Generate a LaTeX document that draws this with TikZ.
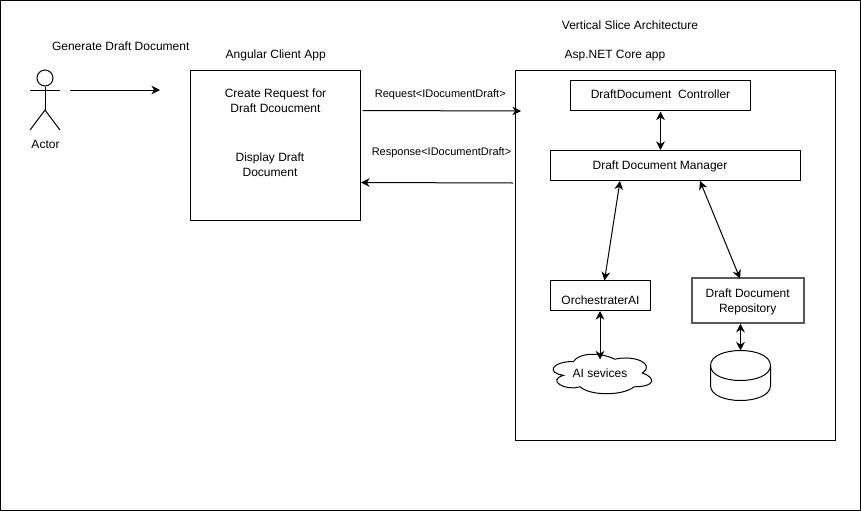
\documentclass[tikz,border=0pt]{standalone}
\usepackage{fontspec}
\setmainfont{Liberation Sans}
\usetikzlibrary{arrows.meta}
\tikzset{
  box/.style={draw,line width=0.75pt,inner sep=0pt},
  txt/.style={inner sep=0pt,align=center,yshift=-1pt,font=\fontsize{9}{11.25}\selectfont},
  smalltxt/.style={inner sep=0pt,yshift=-1pt,font=\fontsize{8.25}{10}\selectfont},
  conn/.style={line width=0.75pt},
}
\begin{document}
\begin{tikzpicture}[x=0.75pt,y=-0.75pt,>={Stealth[length=6.5pt,width=6.5pt]}]
\useasboundingbox (0,0) rectangle (861,511);
% outer frame
\node[box,minimum width=645pt,minimum height=382.5pt] (frame) at (430.5,255.5) {};
% actor
\node[draw,circle,line width=0.75pt,minimum size=12pt,inner sep=0pt] (head) at (45,78) {};
\coordinate (hip) at (45,110);
\coordinate (armleft) at (30,90);
\coordinate (armright) at (60,90);
\coordinate (footleft) at (30,130);
\coordinate (footright) at (60,130);
\draw[conn] (head) -- (hip);
\draw[conn] (armleft) -- (armright);
\draw[conn] (footleft) -- (hip) -- (footright);
\node[txt] (actor) at (45.5,143.2) {Actor};
\node[txt] (generate) at (120.7,44.5) {Generate Draft Document};
\coordinate (flowstart) at (70,90);
\coordinate (flowend) at (160,90);
\draw[conn,->] (flowstart) -- (flowend);
% client app
\node[box,minimum width=127.5pt,minimum height=112.5pt] (client) at (275.5,145.5) {};
\node[txt] (clienttitle) at (275.7,54.5) {Angular Client App};
\node[txt] (create) at (275.5,99) {Create Request for\\Draft Dcoucment};
\node[txt] (display) at (270,163.5) {Display Draft\\Document};
% core app
\node[box,minimum width=240pt,minimum height=277.5pt] (core) at (675.5,255.5) {};
\node[txt] (slice) at (630,24) {Vertical Slice Architecture};
\node[txt] (coretitle) at (615,54.5) {Asp.NET Core app};
\node[box,minimum width=135pt,minimum height=22.5pt] (controller) at (660.5,95.5) {};
\node[txt] (controllertext) at (660.5,92.7) {DraftDocument\ \ Controller};
\node[box,minimum width=187.5pt,minimum height=22.5pt] (manager) at (675.5,165.5) {};
\node[txt] (managertext) at (660,164.7) {Draft Document Manager};
\node[box,minimum width=75pt,minimum height=22.5pt] (orchestrater) at (600.5,295.5) {};
\node[txt] (orchestratertext) at (600.5,298.5) {OrchestraterAI};
\node[box,draw=black!65,line width=1.1pt,minimum width=84pt,minimum height=33.75pt] (repository) at (748,300.5) {};
\node[txt] (repositorytext) at (747.7,300.5) {Draft Document\\Repository};
% cloud
\draw[conn] (573.5,361.5)
  .. controls (551.5,361.5) and (546,373) .. (563.6,375.3)
  .. controls (546,380.4) and (565.8,391.4) .. (580.1,386.8)
  .. controls (590,396) and (623,396) .. (634,386.8)
  .. controls (656,386.8) and (656,377.6) .. (642.25,373)
  .. controls (656,363.8) and (634,354.6) .. (614.75,359.2)
  .. controls (601,352.3) and (579,352.3) .. (573.5,361.5) -- cycle;
\node[txt] (aitext) at (600,372) {AI sevices};
\coordinate (cloudtop) at (600,359.5);
% database
\draw[conn,fill=white] (710.5,365.5)
  .. controls (710.5,345.5) and (770.5,345.5) .. (770.5,365.5)
  -- (770.5,385.5)
  .. controls (770.5,405.5) and (710.5,405.5) .. (710.5,385.5) -- cycle;
\draw[conn] (710.5,365.5) .. controls (710.5,385.5) and (770.5,385.5) .. (770.5,365.5);
\coordinate (dbtop) at (740.5,350.5);
% connectors
\coordinate (reqstart) at (362.5,110.5);
\coordinate (reqend) at (521,111);
\coordinate (respstart) at (513,183);
\coordinate (respend) at (361,182.5);
\draw[conn,->] (reqstart) -- (reqend);
\draw[conn,->] (respstart) -- (respend);
\node[smalltxt] (request) at (440.3,93) {Request<IDocumentDraft>};
\node[smalltxt] (response) at (441.5,151) {Response<IDocumentDraft>};
\draw[conn,<->] (controller.south) ++(0,0.5) -- (manager.north -| controller.south);
\coordinate (mgrleft) at (620,181);
\coordinate (orchtop) at (604.5,280.5);
\coordinate (mgrright) at (700,181);
\coordinate (repotop) at (740,278.5);
\draw[conn,<->] (mgrleft) -- (orchtop);
\draw[conn,<->] (mgrright) -- (repotop);
\draw[conn,<->] (orchestrater.south -| cloudtop) -- (cloudtop);
\draw[conn,<->] (repository.south -| dbtop) -- (dbtop);
\end{tikzpicture}
\end{document}
